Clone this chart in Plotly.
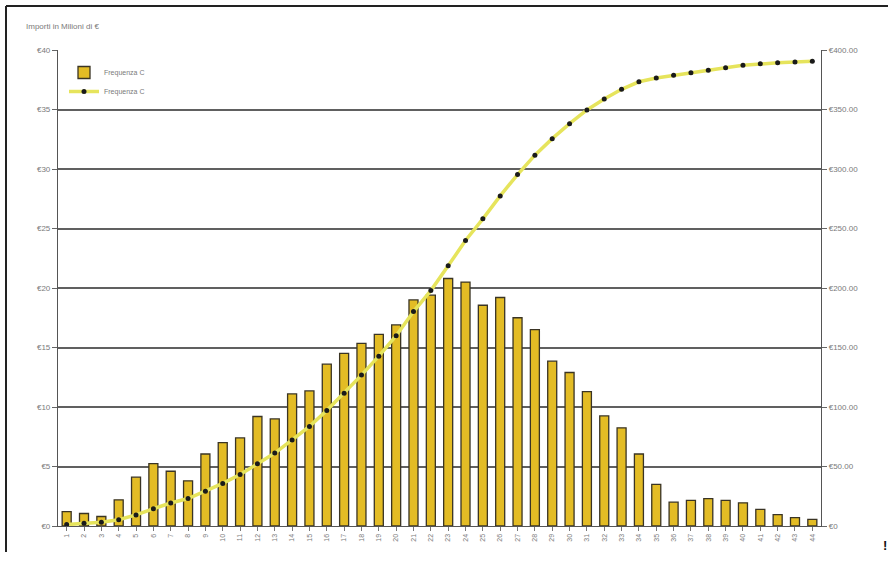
import plotly.graph_objects as go

# Categories 1..44
categories = [str(i) for i in range(1, 45)]

# Importi per classe (milioni di €) - asse sinistro
importi = [1.2, 1.05, 0.8, 2.2, 4.1, 5.25, 4.6, 3.8, 6.05, 7.0,
           7.4, 9.2, 9.0, 11.1, 11.35, 13.6, 14.5, 15.35, 16.1, 16.9,
           19.0, 19.4, 20.8, 20.5, 18.55, 19.2, 17.5, 16.5, 13.85, 12.9,
           11.3, 9.25, 8.25, 6.05, 3.5, 2.0, 2.15, 2.3, 2.15, 1.95,
           1.4, 0.95, 0.7, 0.55]

# Cumulata (milioni di €) - asse destro
cumulata = [1.2, 2.3, 3.1, 5.3, 9.3, 14.5, 19.3, 23.1, 29.2, 35.8,
            43.2, 52.4, 61.3, 72.3, 83.7, 97.1, 111.5, 126.8, 142.7, 159.9,
            180.2, 197.8, 218.6, 239.9, 258.1, 277.4, 295.3, 311.6, 325.5, 338.1,
            349.6, 358.8, 367.0, 373.3, 376.4, 378.7, 380.9, 382.9, 385.1, 387.1,
            388.4, 389.3, 389.9, 390.5]

left_ticks = [0, 5, 10, 15, 20, 25, 30, 35, 40]
left_labels = ["€0", "€5", "€10", "€15", "€20", "€25", "€30", "€35", "€40"]
right_ticks = [0, 50, 100, 150, 200, 250, 300, 350, 400]
right_labels = ["€0", "€50.00", "€100.00", "€150.00", "€200.00",
                "€250.00", "€300.00", "€350.00", "€400.00"]

series_name = "Frequenza C"
title_text = "Importi in Milioni di €"

W, H = 888, 561
L, R, T, B = 58, 67, 50, 35
pw, ph = W - L - R, H - T - B


def px_x(x):
    return (x - L) / pw


def px_y(y):
    return (H - B - y) / ph


font_family = "Liberation Sans, Arial, sans-serif"
txt_col = "#7a7a7a"
grid_col = "#606060"

fig = go.Figure()

fig.add_trace(go.Bar(
    x=categories, y=importi, name=series_name,
    marker=dict(color="#E3BC25", line=dict(color="#3a3424", width=1.3)),
    yaxis="y",
))

fig.add_trace(go.Scatter(
    x=categories, y=cumulata, name=series_name,
    mode="lines+markers",
    line=dict(color="#E6E45C", width=3.5),
    marker=dict(color="#1a1a1a", size=5),
    yaxis="y2",
))

fig.update_layout(
    width=W, height=H,
    margin=dict(l=L, r=R, t=T, b=B, pad=0),
    paper_bgcolor="white", plot_bgcolor="white",
    font=dict(family=font_family, size=8, color=txt_col),
    bargap=0.48,
    showlegend=True,
    legend=dict(x=px_x(64), y=px_y(58), xanchor="left", yanchor="top",
                bgcolor="rgba(0,0,0,0)", font=dict(size=7, color=txt_col),
                itemwidth=30, tracegroupgap=0),
    xaxis=dict(type="category", tickangle=-90, tickfont=dict(size=7, color=txt_col),
               showline=True, linecolor="#555555", linewidth=1.2,
               ticks="outside", ticklen=4, tickcolor="#777",
               showgrid=False, range=[-0.5, 43.5]),
    yaxis=dict(range=[0, 40], tickvals=left_ticks, ticktext=left_labels,
               showgrid=True, gridcolor=grid_col, gridwidth=1.8,
               zeroline=False, showline=True, linecolor="#555555", linewidth=1.2,
               ticks="outside", ticklen=5, tickcolor="#666",
               tickfont=dict(size=8, color=txt_col)),
    yaxis2=dict(range=[0, 400], tickvals=right_ticks, ticktext=right_labels,
                overlaying="y", side="right", showgrid=False, zeroline=False,
                showline=True, linecolor="#555555", linewidth=1.2,
                ticks="outside", ticklen=5, tickcolor="#666",
                tickfont=dict(size=8, color=txt_col)),
    shapes=[
        # outer frame: top and left edges
        dict(type="line", xref="paper", yref="paper",
             x0=px_x(6), x1=px_x(888), y0=px_y(6), y1=px_y(6),
             line=dict(color="#222", width=2)),
        dict(type="line", xref="paper", yref="paper",
             x0=px_x(6), x1=px_x(6), y0=px_y(6), y1=px_y(552),
             line=dict(color="#222", width=2)),
    ],
    annotations=[
        dict(text=title_text, xref="paper", yref="paper",
             x=px_x(24), y=px_y(27), xanchor="left", yanchor="middle",
             showarrow=False, font=dict(size=8, color=txt_col)),
        dict(text="<b>!</b>", xref="paper", yref="paper",
             x=px_x(885), y=px_y(545), xanchor="center", yanchor="middle",
             showarrow=False, font=dict(size=13, color="#111")),
    ],
)

fig.write_html("out.html")
